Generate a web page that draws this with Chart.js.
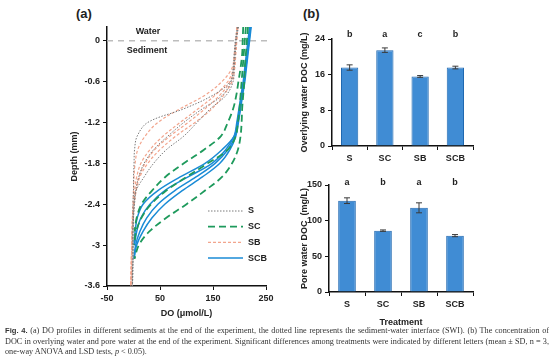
<!DOCTYPE html>
<html>
<head>
<meta charset="utf-8">
<script src="https://cdn.jsdelivr.net/npm/chart.js@4.4.1/dist/chart.umd.min.js"></script>
<style>
  body { margin: 0; background: #fff; width: 554px; height: 363px; position: relative; overflow: hidden; font-family: 'Liberation Sans', Arial, sans-serif; }
  canvas { position: absolute; }
  .panel { position: absolute; font-weight: bold; font-size: 13px; color: #222; }
  #caption { position: absolute; left: 5px; top: 326px; width: 544px; font-family: 'Liberation Serif', serif; font-size: 8.2px; line-height: 10.6px; color: #333; }
  #caption div { white-space: nowrap; }
  #caption .full { text-align: justify; text-align-last: justify; }
  #caption b { font-family: 'Liberation Sans', Arial, sans-serif; font-size: 7.6px; color: #333; }
</style>
</head>
<body>
<div class="panel" style="left:76px;top:6px">(a)</div>
<div class="panel" style="left:303px;top:6px">(b)</div>
<canvas id="profiles" width="280" height="325" style="left:0;top:0"></canvas>
<canvas id="overlying" width="274" height="165" style="left:280px;top:0"></canvas>
<canvas id="pore" width="274" height="165" style="left:280px;top:165px"></canvas>
<div id="caption">
  <div class="full"><b>Fig. 4.</b> (a) DO profiles in different sediments at the end of the experiment, the dotted line represents the sediment-water interface (SWI). (b) The concentration of</div>
  <div class="full">DOC in overlying water and pore water at the end of the experiment. Significant differences among treatments were indicated by different letters (mean ± SD, n = 3,</div>
  <div>one-way ANOVA and LSD tests, <i>p</i> &lt; 0.05).</div>
</div>

<script>
// depth levels (mm) shared by all profiles
const depth = [0.2, 0, -0.2, -0.4, -0.6, -0.8, -1.0, -1.2, -1.4, -1.6, -1.8, -2.0, -2.2, -2.4, -2.6, -2.8, -3.0, -3.2, -3.4, -3.6]
const depthTicks = [0, -0.6, -1.2, -1.8, -2.4, -3, -3.6]

// DO (umol/L) replicates
const S_1 = [197, 193, 191, 189, 183, 150, 95, 27, 7, 2, 1, 0, 0, -1, -1, -1, -1, -1, -2, -2]
const S_2 = [198, 194, 192, 190, 188, 175, 145, 120, 95, 62, 38, 20, 5, 2, 0, -1, -1, -1, -1, -2]
const S_3 = [196, 192, 190, 188, 184, 168, 130, 95, 65, 38, 20, 10, 4, 1, 0, -1, -1, -1, -2, -2]
const SB_1 = [195, 193, 190, 186, 167, 135, 88, 46, 22, 8, 3, 1, 0, -1, -2, -3, -3, -4, -4, -5]
const SB_2 = [196, 194, 192, 189, 178, 154, 122, 88, 56, 31, 14, 6, 2, 0, -2, -3, -3, -4, -5, -5]
const SB_3 = [197, 195, 193, 191, 186, 170, 148, 116, 80, 50, 27, 12, 5, 1, -1, -2, -3, -4, -4, -5]
const SB_4 = [196, 194, 192, 190, 182, 163, 135, 103, 69, 40, 22, 10, 5, 1, -1, -2, -3, -3, -4, -5]
const SC_1 = [207, 206, 205, 202, 198, 194, 188, 178, 165, 133, 95, 60, 35, 15, 6, 2, null, null, null, null]
const SC_2 = [216, 214, 212, 210, 209, 207, 205, 204, 202, 197, 186, 167, 135, 100, 62, 30, 10, 2, null, null]
const SC_3 = [212, 210, 208, 206, 204, 202, 200, 197, 193, 178, 140, 100, 62, 33, 15, 5, 1, null, null, null]
const SCB_1 = [220, 217, 214, 211, 208, 204, 200, 196, 190, 167, 135, 88, 46, 18, 7, 3, 1, null, null, null]
const SCB_2 = [219, 216, 213, 210, 207, 203, 199, 195, 190, 174, 148, 103, 59, 31, 14, 6, 2, null, null, null]
const SCB_3 = [221, 218, 215, 212, 209, 205, 201, 197, 192, 178, 154, 118, 78, 46, 25, 12, 4, 1, null, null]
const SCB_4 = [222, 219, 216, 213, 210, 206, 202, 198, 193, 182, 163, 130, 92, 59, 35, 18, 6, 1, null, null]

// panel (b)
const treatments = ['S', 'SC', 'SB', 'SCB']
const overlyingDOC = [17.6, 21.5, 15.6, 17.6]
const overlyingSD = [0.6, 0.5, 0.2, 0.3]
const overlyingLetters = ['b', 'a', 'c', 'b']
const poreDOC = [128, 86, 118, 79]
const poreSD = [4, 1, 7, 1.5]
const poreLetters = ['a', 'b', 'a', 'b']

Chart.defaults.font.family = "'Liberation Sans', Arial, sans-serif"
Chart.defaults.font.size = 9
Chart.defaults.font.weight = 'bold'
Chart.defaults.color = '#222'
Chart.defaults.animation = false

const styles = {
    S: { color: '#7a7a7a', width: 1, dash: [1.5, 1.5] },
    SC: { color: '#1e9a5c', width: 1.8, dash: [7, 4] },
    SB: { color: '#f2a58d', width: 1.2, dash: [3, 2] },
    SCB: { color: '#1a8bd6', width: 1.5, dash: [] }
}

function profile(name, values) {
    const st = styles[name]
    const pts = []
    values.forEach((v, i) => { if (v !== null) pts.push({ x: v, y: depth[i] }) })
    return {
        label: name,
        data: pts,
        borderColor: st.color,
        borderWidth: st.width,
        borderDash: st.dash,
        pointRadius: 0,
        tension: 0.35,
        fill: false
    }
}

const profileExtras = {
    id: 'profileExtras',
    beforeDatasetsDraw(chart) {
        const { ctx, chartArea, scales: { y } } = chart
        const y0 = y.getPixelForValue(0)
        ctx.save()
        ctx.strokeStyle = '#bdbdbd'
        ctx.lineWidth = 1.5
        ctx.setLineDash([6, 5])
        ctx.beginPath()
        ctx.moveTo(chartArea.left, y0)
        ctx.lineTo(chartArea.right + 3, y0)
        ctx.stroke()
        ctx.setLineDash([])
        ctx.fillStyle = '#222'
        ctx.font = "bold 9px 'Liberation Sans', Arial, sans-serif"
        ctx.textAlign = 'center'
        ctx.textBaseline = 'middle'
        ctx.fillText('Water', chartArea.left + 41, y0 - 9)
        ctx.fillText('Sediment', chartArea.left + 40, y0 + 10)
        ctx.restore()
    },
    afterDatasetsDraw(chart) {
        const { ctx, chartArea } = chart
        const names = ['S', 'SC', 'SB', 'SCB']
        ctx.save()
        ctx.font = "bold 9px 'Liberation Sans', Arial, sans-serif"
        ctx.textBaseline = 'middle'
        ctx.textAlign = 'left'
        names.forEach((n, i) => {
            const st = styles[n]
            const ly = chartArea.bottom - 75 + i * 15.7
            const lx = chartArea.right - 58
            ctx.strokeStyle = st.color
            ctx.lineWidth = st.width
            ctx.setLineDash(st.dash)
            ctx.beginPath()
            ctx.moveTo(lx, ly)
            ctx.lineTo(lx + 35, ly)
            ctx.stroke()
            ctx.setLineDash([])
            ctx.fillStyle = '#222'
            ctx.fillText(n, lx + 40, ly)
        })
        ctx.restore()
    }
}

new Chart(document.getElementById('profiles'), {
    type: 'line',
    data: {
        datasets: [
            profile('S', S_1), profile('S', S_2), profile('S', S_3),
            profile('SB', SB_1), profile('SB', SB_2), profile('SB', SB_3), profile('SB', SB_4),
            profile('SC', SC_1), profile('SC', SC_2), profile('SC', SC_3),
            profile('SCB', SCB_1), profile('SCB', SCB_2), profile('SCB', SCB_3), profile('SCB', SCB_4)
        ]
    },
    options: {
        responsive: false,
        layout: { padding: { top: 27, right: 14, left: 0, bottom: 0 } },
        plugins: { legend: { display: false }, tooltip: { enabled: false } },
        scales: {
            x: {
                type: 'linear', min: -50, max: 250,
                ticks: { stepSize: 100, padding: 3 },
                grid: { drawOnChartArea: false, color: '#111', tickLength: 4 },
                border: { color: '#111', width: 1.5 },
                title: { display: true, text: 'DO (μmol/L)', padding: { top: 0, bottom: 6 } },
                afterFit: (s) => { s.height = 39 }
            },
            y: {
                type: 'linear', min: -3.6, max: 0.2,
                afterBuildTicks: (s) => { s.ticks = depthTicks.map(v => ({ value: v })) },
                ticks: { callback: (v) => String(v), padding: 3 },
                grid: { drawOnChartArea: false, color: '#111', tickLength: 4 },
                border: { color: '#111', width: 1.5 },
                title: { display: true, text: 'Depth (mm)', padding: { top: 69, bottom: 0 } },
                afterFit: (s) => { s.width = 107 }
            }
        }
    },
    plugins: [profileExtras]
})

const errorBars = {
    id: 'errorBars',
    afterDatasetsDraw(chart, args, opts) {
        const { ctx, chartArea, scales: { y } } = chart
        const vals = chart.data.datasets[0].data
        const meta = chart.getDatasetMeta(0)
        ctx.save()
        ctx.strokeStyle = '#3a3a3a'
        ctx.lineWidth = 1
        meta.data.forEach((bar, i) => {
            const top = y.getPixelForValue(vals[i] + opts.sd[i])
            const bot = y.getPixelForValue(vals[i] - opts.sd[i])
            ctx.beginPath()
            ctx.moveTo(bar.x, top); ctx.lineTo(bar.x, bot)
            ctx.moveTo(bar.x - 3, top); ctx.lineTo(bar.x + 3, top)
            ctx.moveTo(bar.x - 3, bot); ctx.lineTo(bar.x + 3, bot)
            ctx.stroke()
        })
        ctx.fillStyle = '#222'
        ctx.font = "bold 9px 'Liberation Sans', Arial, sans-serif"
        ctx.textAlign = 'center'
        ctx.textBaseline = 'middle'
        meta.data.forEach((bar, i) => {
            ctx.fillText(opts.letters[i], bar.x, chartArea.top - opts.gap)
        })
        ctx.restore()
    }
}

function barChart(id, values, sd, letters, max, step, yTitle, xTitle, area) {
    new Chart(document.getElementById(id), {
        type: 'bar',
        data: {
            labels: treatments,
            datasets: [{
                data: values,
                backgroundColor: 'rgb(64, 140, 212)',
                borderColor: 'rgb(32, 104, 176)',
                borderWidth: 1,
                categoryPercentage: 1,
                barPercentage: 0.49
            }]
        },
        options: {
            responsive: false,
            layout: { padding: { top: area.top, right: area.right, left: 0, bottom: 0 } },
            plugins: {
                legend: { display: false },
                tooltip: { enabled: false },
                errorBars: { sd: sd, letters: letters, gap: area.gap }
            },
            scales: {
                x: {
                    ticks: { padding: 3 },
                    grid: { drawOnChartArea: false, color: '#111', tickLength: 4 },
                    border: { color: '#111', width: 1.5 },
                    title: { display: xTitle !== '', text: xTitle, padding: { top: 0, bottom: 2.5 } },
                    afterFit: (s) => { s.height = area.xh }
                },
                y: {
                    min: 0, max: max,
                    ticks: { stepSize: step, padding: 3 },
                    grid: { drawOnChartArea: false, color: '#111', tickLength: 4 },
                    border: { color: '#111', width: 1.5 },
                    title: { display: true, text: yTitle, padding: { top: 19.5, bottom: 0 } },
                    afterFit: (s) => { s.width = area.left }
                }
            }
        },
        plugins: [errorBars]
    })
}

barChart('overlying', overlyingDOC, overlyingSD, overlyingLetters, 24, 8,
    'Overlying water DOC (mg/L)', '', { top: 39, right: 81, left: 52, xh: 19, gap: 4 })
barChart('pore', poreDOC, poreSD, poreLetters, 150, 50,
    'Pore water DOC  (mg/L)', 'Treatment', { top: 20, right: 81, left: 49, xh: 38, gap: 2 })
</script>
</body>
</html>
